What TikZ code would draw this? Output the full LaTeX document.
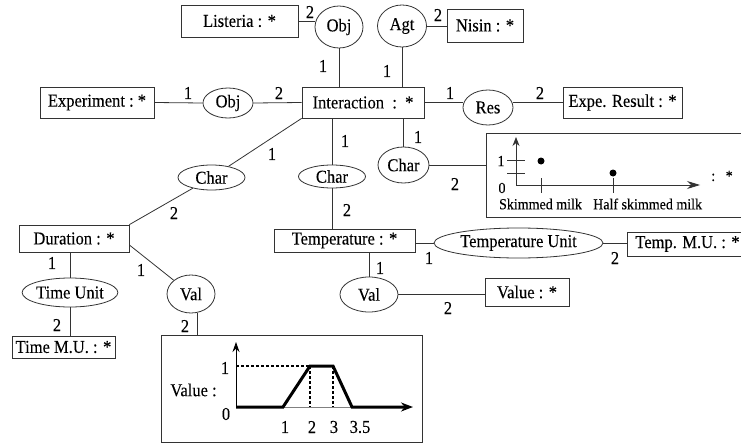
\documentclass[tikz,border=0pt]{standalone}
\usepackage{fontspec}
\setmainfont{Liberation Serif}
\newfontfamily\dfont[FakeBold=0.12]{Liberation Serif}
\newcommand\vtxt[1]{\scalebox{1}[1.1]{#1}}
\usetikzlibrary{shapes.geometric,arrows.meta}
\begin{document}
\begin{tikzpicture}[x=1pt,y=-1pt, font=\dfont\fontsize{16.5}{19}\selectfont,
  box/.style={draw=black!80, line width=0.8pt, inner sep=0pt},
  ell/.style={draw=black!80, line width=0.8pt, ellipse, inner sep=0pt},
  conn/.style={draw=black!80, line width=0.8pt},
  lab/.style={inner sep=0pt},
  small/.style={inner sep=0pt, font=\dfont\fontsize{14}{16}\selectfont}]
\useasboundingbox (0,0) rectangle (741,444);
\clip (0,0) rectangle (741,444);
\fill[white] (0,0) rectangle (741,444);
% nodes
\node[box, minimum width=117pt, minimum height=32pt] (list) at (239.5,21) {\vtxt{Listeria : *}};
\node[ell, minimum width=48pt, minimum height=42pt] (obj1) at (339,27) {\vtxt{Obj}};
\node[ell, minimum width=49pt, minimum height=42pt] (agt) at (402,26) {\vtxt{Agt}};
\node[box, minimum width=76pt, minimum height=33pt] (nisin) at (485,25.5) {\vtxt{Nisin : *}};
\node[box, minimum width=114pt, minimum height=31pt] (exp) at (97,102.5) {\vtxt{Experiment :~*}};
\node[ell, minimum width=50pt, minimum height=30pt] (obj2) at (228,103) {\vtxt{Obj}};
\node[box, minimum width=122pt, minimum height=31pt] (inter) at (363,102.5) {\vtxt{Interaction~~:~~*}};
\node[ell, minimum width=50pt, minimum height=35pt] (res) at (488,107.5) {\vtxt{Res}};
\node[box, minimum width=119pt, minimum height=31pt] (expe) at (622.5,102.5) {\vtxt{Expe. Result : *}};
\node[ell, minimum width=51pt, minimum height=36pt] (charR) at (403.5,165) {\vtxt{Char}};
\node[box, anchor=north west, minimum width=270pt, minimum height=84pt] (gbox) at (486,133) {};
\node[ell, minimum width=67pt, minimum height=25pt] (charL) at (211.5,177.5) {\vtxt{Char}};
\node[ell, minimum width=67pt, minimum height=23pt] (charM) at (332,176.5) {\vtxt{Char}};
\node[box, minimum width=110pt, minimum height=27pt] (dur) at (74,238.5) {\vtxt{Duration : *}};
\node[ell, minimum width=95pt, minimum height=29pt] (tu) at (70,292.5) {\vtxt{Time Unit}};
\node[box, minimum width=103pt, minimum height=22pt] (tmu) at (63.5,347) {\vtxt{Time M.U. : *}};
\node[ell, minimum width=48pt, minimum height=38pt] (valL) at (191,294) {\vtxt{Val}};
\node[box, anchor=north west, minimum width=261pt, minimum height=107pt] (cbox) at (161,335) {};
\node[box, minimum width=141pt, minimum height=23pt] (temp) at (344.5,240.5) {\vtxt{Temperature : *}};
\node[ell, minimum width=169pt, minimum height=30pt] (tunit) at (518.5,243) {\vtxt{Temperature Unit}};
\node[box, anchor=west, minimum height=24pt, inner xsep=8pt] (tempmu) at (627,244) {\vtxt{Temp. M.U. : *}};
\node[ell, minimum width=58pt, minimum height=35pt] (valR) at (369,294.5) {\vtxt{Val}};
\node[box, minimum width=84pt, minimum height=28pt] (value) at (527,292) {\vtxt{Value : *}};
% connectors
\draw[conn] (list.east) -- (list.east -| obj1.west);
\draw[conn] (obj1.south) -- (obj1.south |- inter.north);
\draw[conn] (agt.south) -- (agt.south |- inter.north);
\draw[conn] (agt.east) -- (agt.east -| nisin.west);
\draw[conn] (exp.east) -- (obj2.west);
\draw[conn] (obj2.east) -- (inter.west);
\draw[conn] (inter.east) -- (inter.east -| res.west);
\draw[conn] (res.east |- expe.west) -- (expe.west);
\draw[conn] (charR.north) -- (charR.north |- inter.south);
\draw[conn] (charR.east) -- (charR.east -| gbox.west);
\draw[conn] (inter.south west) -- (charL);
\draw[conn] (charL) -- (dur.north east);
\draw[conn] (charM.north) -- (charM.north |- inter.south);
\draw[conn] (charM.south) -- (charM.south |- temp.north);
\draw[conn] (tu.north) -- (tu.north |- dur.south);
\draw[conn] (tu.south) -- (tu.south |- tmu.north);
\draw[conn] ([yshift=-6.5pt]dur.east) -- (valL);
\draw[conn] (valL.-70) -- (valL.-70 |- cbox.north);
\draw[conn] (temp.east |- tunit.west) -- (tunit.west);
\draw[conn] (tunit.east) -- (tunit.east -| tempmu.west);
\draw[conn] (valR.north) -- (valR.north |- temp.south);
\draw[conn] (valR.east) -- (valR.east -| value.west);
% connector labels
\node[lab] (n1) at (310,12) {\vtxt{2}};
\node[lab] (n2) at (323,66) {\vtxt{1}};
\node[lab] (n3) at (387,71) {\vtxt{1}};
\node[lab] (n4) at (438,15) {\vtxt{2}};
\node[lab] (n5) at (188,93) {\vtxt{1}};
\node[lab] (n6) at (279,93) {\vtxt{2}};
\node[lab] (n7) at (450,93) {\vtxt{1}};
\node[lab] (n8) at (540,93) {\vtxt{2}};
\node[lab] (n9) at (418,137) {\vtxt{1}};
\node[lab] (n10) at (455,184) {\vtxt{2}};
\node[lab] (n11) at (272,154) {\vtxt{1}};
\node[lab] (n12) at (174,213) {\vtxt{2}};
\node[lab] (n13) at (345,141) {\vtxt{1}};
\node[lab] (n14) at (347,210) {\vtxt{2}};
\node[lab] (n15) at (52,263) {\vtxt{1}};
\node[lab] (n16) at (57,325) {\vtxt{2}};
\node[lab] (n17) at (141,270) {\vtxt{1}};
\node[lab] (n18) at (185,326) {\vtxt{2}};
\node[lab] (n19) at (429,258) {\vtxt{1}};
\node[lab] (n20) at (615,258) {\vtxt{2}};
\node[lab] (n21) at (380,268) {\vtxt{1}};
\node[lab] (n22) at (448,308) {\vtxt{2}};
% graph in right box
\draw[conn, -{Stealth[length=9pt,width=7pt]}] (516,185) -- (516,137);
\draw[conn] (507,160) -- (525,160) (507,173) -- (525,173);
\draw[conn, -{Stealth[length=13pt,width=8pt]}] (516,185) -- (700,185);
\draw[conn] (541,178) -- (541,193) (613,178) -- (613,193);
\fill (541,161) circle (3.5pt);
\fill (613,173) circle (3.5pt);
\node[small] (g1) at (501,161) {\vtxt{1}};
\node[small] (g0) at (502,188) {\vtxt{0}};
\node[small] (gs) at (540.5,204) {\vtxt{Skimmed milk}};
\node[small, anchor=west] (gh) at (593,204) {\vtxt{Half skimmed milk}};
\node[small] (gst) at (722,176) {\vtxt{:~~~*}};
% chart in bottom box
\draw[gray, line width=0.8pt] (236,407) -- (405,407);
\draw[black, line width=0.9pt, -{Stealth[length=10pt,width=7pt]}] (236,408) -- (236,342);
\draw[black, line width=1.2pt, dash pattern=on 3pt off 2pt] (236,366) -- (310,366) (310,366) -- (310,407) (333,366) -- (333,407);
\draw[black, line width=3pt, line join=miter, -{Stealth[length=12pt,width=9pt]}] (236,407) -- (283,407) -- (310,366) -- (333,366) -- (352,407) -- (413,407);
\node[lab] (c1) at (225,368) {\vtxt{1}};
\node[lab] (c0) at (226,414) {\vtxt{0}};
\node[lab] (cv) at (193.5,390) {\vtxt{Value :}};
\node[lab] (x1) at (285,427) {\vtxt{1}};
\node[lab] (x2) at (312,427) {\vtxt{2}};
\node[lab] (x3) at (334,427) {\vtxt{3}};
\node[lab] (x35) at (360,427) {\vtxt{3.5}};
\end{tikzpicture}
\end{document}
